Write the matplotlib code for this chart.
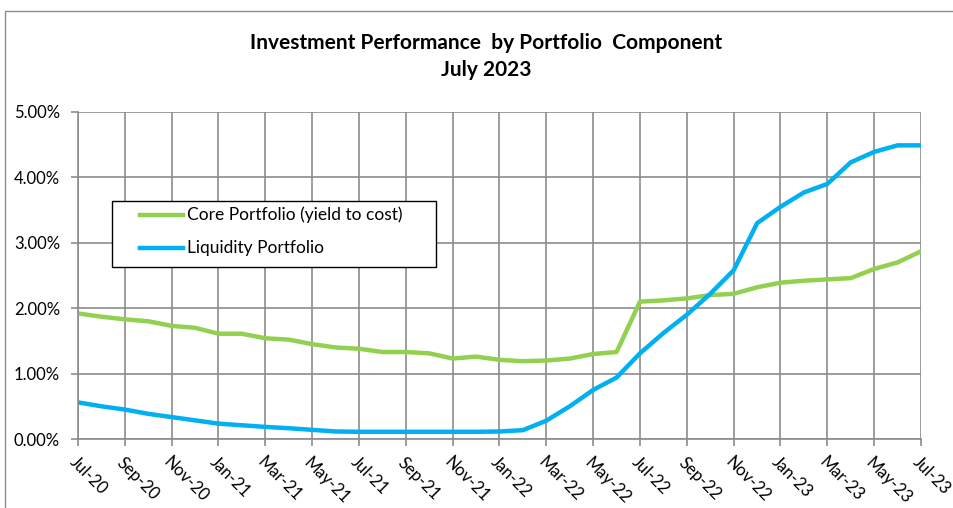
import numpy as np
import matplotlib.pyplot as plt
from matplotlib.patches import Rectangle
from matplotlib.lines import Line2D

months = ['Jul-20', 'Aug-20', 'Sep-20', 'Oct-20', 'Nov-20', 'Dec-20',
          'Jan-21', 'Feb-21', 'Mar-21', 'Apr-21', 'May-21', 'Jun-21',
          'Jul-21', 'Aug-21', 'Sep-21', 'Oct-21', 'Nov-21', 'Dec-21',
          'Jan-22', 'Feb-22', 'Mar-22', 'Apr-22', 'May-22', 'Jun-22',
          'Jul-22', 'Aug-22', 'Sep-22', 'Oct-22', 'Nov-22', 'Dec-22',
          'Jan-23', 'Feb-23', 'Mar-23', 'Apr-23', 'May-23', 'Jun-23',
          'Jul-23']

# yields in percent
core = [1.92, 1.87, 1.83, 1.80, 1.73, 1.70,
        1.61, 1.61, 1.54, 1.52, 1.45, 1.40,
        1.38, 1.33, 1.33, 1.31, 1.23, 1.26,
        1.21, 1.19, 1.20, 1.23, 1.30, 1.33,
        2.10, 2.12, 2.15, 2.20, 2.22, 2.32,
        2.39, 2.42, 2.44, 2.46, 2.60, 2.70,
        2.87]
liquidity = [0.56, 0.50, 0.45, 0.385, 0.335, 0.285,
             0.235, 0.21, 0.185, 0.165, 0.14, 0.115,
             0.11, 0.11, 0.11, 0.11, 0.11, 0.11,
             0.115, 0.135, 0.28, 0.50, 0.75, 0.94,
             1.31, 1.62, 1.90, 2.22, 2.58, 3.30,
             3.55, 3.77, 3.90, 4.23, 4.39, 4.49,
             4.49]

green = '#92D050'
blue = '#00B0F0'
grid_col = '#8c8c8c'

plt.rcParams['font.family'] = ['Lato', 'DejaVu Sans']

fig = plt.figure(figsize=(9.54, 5.08), dpi=100)
ax = fig.add_axes([78 / 954, 1 - 439 / 508, (921 - 78) / 954, (439 - 112) / 508])

x = np.arange(len(months))

ax.plot(x, core, color=green, lw=3.2, solid_capstyle='butt')
ax.plot(x, liquidity, color=blue, lw=3.2, solid_capstyle='butt')

ax.set_xlim(0, len(months) - 1)
ax.set_ylim(0, 5)
ax.set_xticks(x[::2])
ax.set_xticklabels(months[::2], rotation=-45, ha='left', va='top',
                   rotation_mode='anchor', fontsize=12)
ax.set_yticks(np.arange(0, 6))
ax.set_yticklabels(['%.2f%%' % v for v in range(6)], fontsize=12)
ax.tick_params(axis='both', color=grid_col, length=5, width=1.2)
ax.tick_params(axis='x', pad=6)
ax.tick_params(axis='y', pad=8)

ax.grid(True, color=grid_col, lw=1.2)
ax.set_axisbelow(True)
for s in ['top', 'right']:
    ax.spines[s].set_visible(False)
for s in ['left', 'bottom']:
    ax.spines[s].set_color(grid_col)
    ax.spines[s].set_linewidth(1.2)

# legend box drawn by hand (Excel style padding)
def fx(px):
    return px / 954

def fy(py):
    return 1 - py / 508

fig.add_artist(Rectangle((fx(112), fy(267)), fx(436) - fx(112), fy(201) - fy(267),
                         transform=fig.transFigure, facecolor='white',
                         edgecolor='black', lw=1.0, zorder=5))
for lab, col, py in [('Core Portfolio (yield to cost)', green, 215),
                     ('Liquidity Portfolio', blue, 248)]:
    fig.add_artist(Line2D([fx(140), fx(183)], [fy(py), fy(py)], color=col, lw=3.2,
                          transform=fig.transFigure, zorder=6))
    fig.text(fx(187), fy(py), lab, ha='left', va='center', fontsize=12.5, zorder=6)

fig.text(0.510, 1 - 43 / 508, 'Investment Performance  by Portfolio  Component',
         ha='center', va='center', fontsize=15, fontweight='bold')
fig.text(0.510, 1 - 70 / 508, 'July 2023', ha='center', va='center',
         fontsize=15, fontweight='bold')

fig.add_artist(Rectangle((fx(5), -0.1), 1.2, fy(11) + 0.1, transform=fig.transFigure,
                         fill=False, edgecolor=grid_col, lw=1.0, clip_on=False))

fig.savefig('out.png', dpi=100)
